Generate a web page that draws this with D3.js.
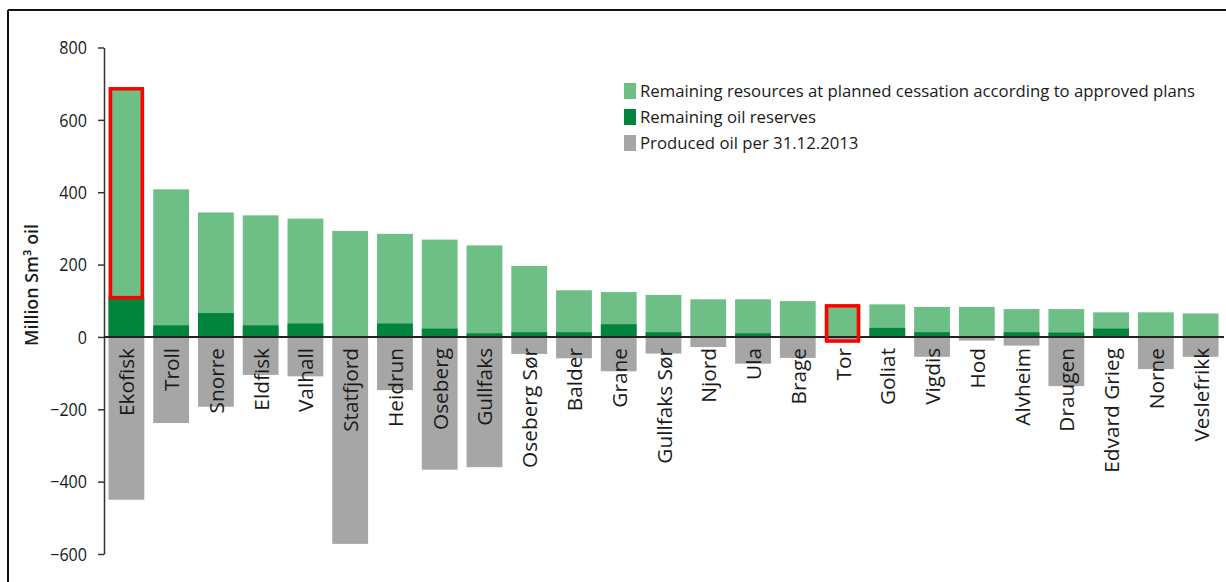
<!DOCTYPE html>
<html>
<head>
<meta charset="utf-8">
<script src="https://cdn.jsdelivr.net/npm/d3@7/dist/d3.min.js"></script>
<style>
html,body{margin:0;padding:0;background:#fff;}
svg{display:block;}
</style>
</head>
<body>
<svg id="chart" width="1226" height="582"></svg>
<script>
const fields = ["Ekofisk","Troll","Snorre","Eldfisk","Valhall","Statfjord","Heidrun","Oseberg","Gullfaks","Oseberg Sør","Balder","Grane","Gullfaks Sør","Njord","Ula","Brage","Tor","Goliat","Vigdis","Hod","Alvheim","Draugen","Edvard Grieg","Norne","Veslefrikk"];
const remainingAtCessation = [690,408,344,336,327,293,285,269,253,196,129,124,116,104,104,99,90,90,83,83,77,77,68,68,65];
const remainingReserves = [110,32,66,32,37,0,37,23,10,13,13,35,13,0,10,0,0,25,13,0,13,12,23,0,0];
const producedOil = [-450,-238,-193,-105,-109,-572,-147,-367,-360,-47,-59,-95,-46,-28,-74,-58,-10,0,-55,-10,-24,-136,0,-89,-55];
const yTicks = [800,600,400,200,0,-200,-400,-600];
const legendLabels = ["Remaining resources at planned cessation according to approved plans","Remaining oil reserves","Produced oil per 31.12.2013"];
const highlightFields = ["Ekofisk","Tor"];
const highlightLow = [110,-10];
const highlightHigh = [690,90];
const yTitle = "Million Sm³ oil";

const colors = {light:"#6dbf86", dark:"#02843e", gray:"#a6a6a6", red:"#ff0000", text:"#1a1a1a"};
const narrowFont = "'Liberation Sans Narrow','Arial Narrow','Open Sans',sans-serif";
const labelFont = "'Open Sans',sans-serif";

const svg = d3.select("#chart");

function textWidth(text, family, weight, size){
  const t = svg.append("text").attr("font-family",family).attr("font-weight",weight).attr("font-size",size).text(text);
  const w = t.node().getComputedTextLength();
  t.remove();
  return w;
}
function fitSize(text, family, weight, base, target){
  return base*target/textWidth(text, family, weight, base);
}

// frame
svg.append("line").attr("x1",8).attr("x2",1226).attr("y1",10).attr("y2",10).attr("stroke","#111").attr("stroke-width",2);
svg.append("line").attr("x1",8).attr("x2",8).attr("y1",10).attr("y2",582).attr("stroke","#111").attr("stroke-width",2);

const x = d3.scaleBand().domain(fields).range([104,1223]).paddingInner(0.2).paddingOuter(0.1);
const y = d3.scaleLinear().domain([-600,800]).range([554,47.5]);

const rows = fields.map((f,i)=>({f, top:remainingAtCessation[i], res:remainingReserves[i], prod:producedOil[i]}));

svg.append("g").selectAll("rect").data(rows.filter(d=>d.prod<0)).join("rect")
  .attr("x",d=>x(d.f)).attr("width",x.bandwidth())
  .attr("y",y(0)).attr("height",d=>y(d.prod)-y(0))
  .attr("fill",colors.gray);
svg.append("g").selectAll("rect").data(rows).join("rect")
  .attr("x",d=>x(d.f)).attr("width",x.bandwidth())
  .attr("y",d=>y(d.top)).attr("height",d=>y(0)-y(d.top))
  .attr("fill",colors.light);
svg.append("g").selectAll("rect").data(rows.filter(d=>d.res>0)).join("rect")
  .attr("x",d=>x(d.f)).attr("width",x.bandwidth())
  .attr("y",d=>y(d.res)).attr("height",d=>y(0)-y(d.res))
  .attr("fill",colors.dark);

// y axis
const yAxis = d3.axisLeft(y).tickValues(yTicks).tickSize(6).tickSizeOuter(0).tickPadding(11).tickFormat(d3.format("d"));
const ga = svg.append("g").attr("transform","translate(104,0)").call(yAxis);
ga.select(".domain").attr("stroke","#333").attr("stroke-width",1.5);
ga.selectAll(".tick line").attr("stroke","#333").attr("stroke-width",1.5);
ga.selectAll(".tick text").attr("font-family",labelFont).attr("font-size",17.5).attr("fill",colors.text).attr("dy","0.36em")
  .attr("lengthAdjust","spacingAndGlyphs")
  .each(function(){ const w=this.getComputedTextLength(); d3.select(this).attr("textLength", w*0.92); });

svg.append("line").attr("x1",104).attr("x2",1224).attr("y1",y(0)).attr("y2",y(0)).attr("stroke","#222").attr("stroke-width",2);

// category labels
const catSize = fitSize("Edvard Grieg", labelFont, 500, 18, 125);
svg.append("g").selectAll("text").data(fields).join("text")
  .attr("transform",d=>`translate(${x(d)+x.bandwidth()/2},${y(0)+11}) rotate(-90)`)
  .attr("text-anchor","end").attr("dominant-baseline","central")
  .attr("font-family",labelFont).attr("font-weight",500).attr("font-size",catSize).attr("fill",colors.text)
  .text(d=>d);

// highlight boxes
svg.append("g").selectAll("rect").data(highlightFields.map((f,i)=>({f,lo:highlightLow[i],hi:highlightHigh[i]}))).join("rect")
  .attr("x",d=>x(d.f)+2).attr("width",x.bandwidth()-4)
  .attr("y",d=>y(d.hi)+1.5).attr("height",d=>y(d.lo)-y(d.hi)-1)
  .attr("fill","none").attr("stroke",colors.red).attr("stroke-width",3.5);

// y title
const titleSize = fitSize(yTitle, labelFont, 600, 17, 122);
svg.append("text").attr("transform","translate(31,285) rotate(-90)")
  .attr("text-anchor","middle").attr("dominant-baseline","central")
  .attr("font-family",labelFont).attr("font-weight",600).attr("font-size",titleSize).attr("fill",colors.text)
  .text(yTitle);

// legend: Calibri-like narrow look via horizontal compression
const legFontSize = 17;
const legRatio = 555 / textWidth(legendLabels[0], labelFont, 400, legFontSize);
const legendColors = [colors.light, colors.dark, colors.gray];
const lg = svg.append("g");
legendLabels.forEach((t,i)=>{
  lg.append("rect").attr("x",624).attr("y",83+i*26).attr("width",12).attr("height",16).attr("fill",legendColors[i]);
  lg.append("text").attr("x",640).attr("y",97+i*26)
    .attr("font-family",labelFont).attr("font-size",legFontSize).attr("fill",colors.text)
    .attr("lengthAdjust","spacingAndGlyphs")
    .attr("textLength", textWidth(t, labelFont, 400, legFontSize)*legRatio)
    .text(t);
});
</script>
</body>
</html>
